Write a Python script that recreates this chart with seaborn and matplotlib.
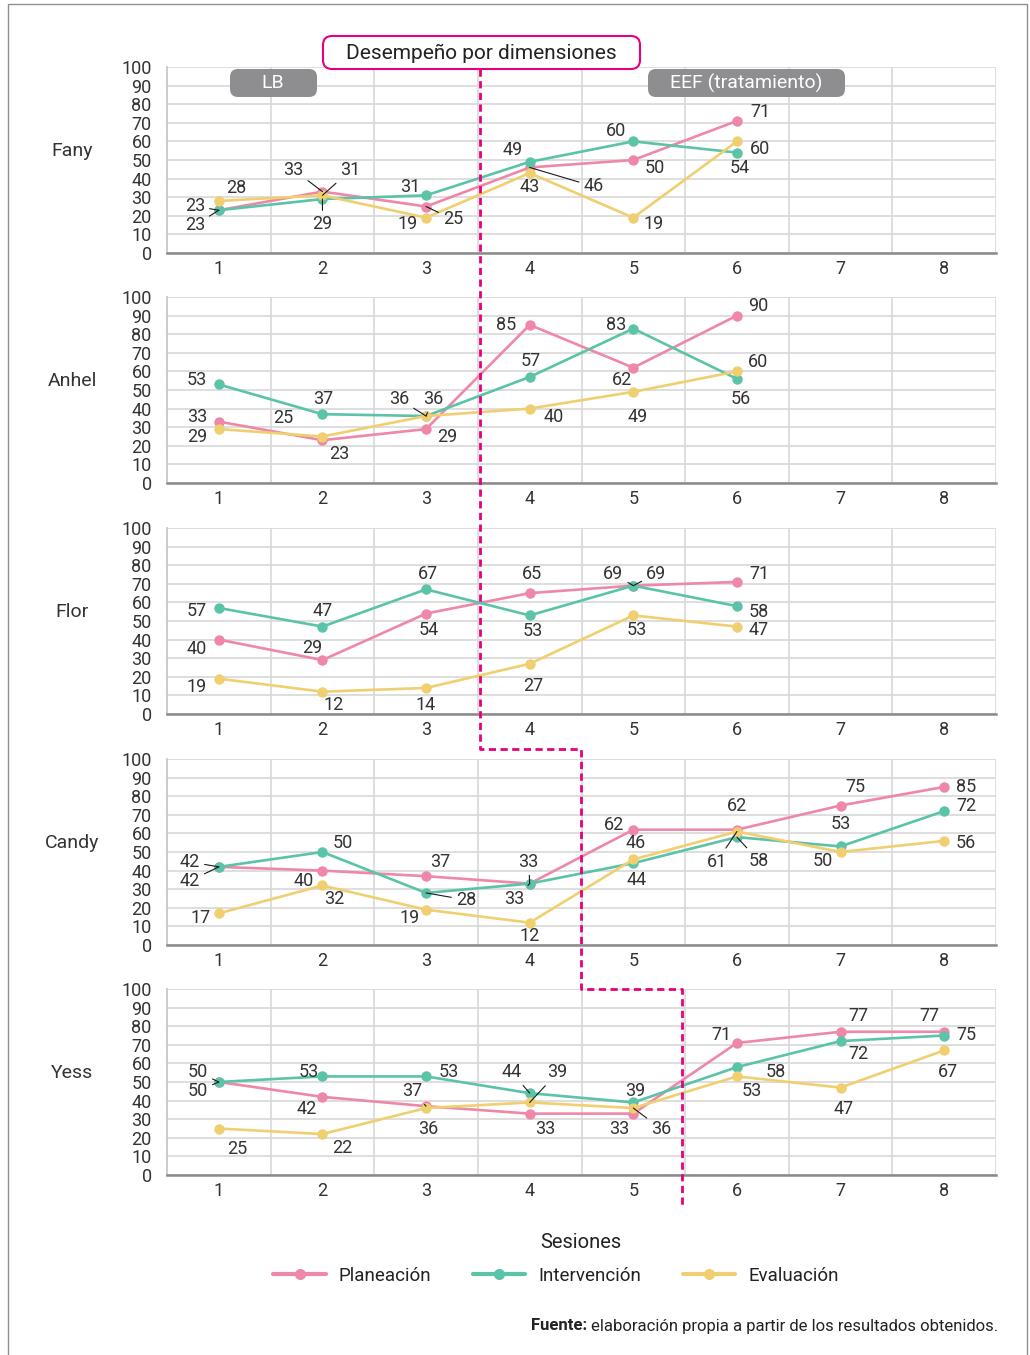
"""
Desempeño por dimensiones: cinco participantes, tres dimensiones por sesión.
"""

import matplotlib
matplotlib.use("Agg")
import matplotlib.pyplot as plt
from matplotlib.patches import FancyBboxPatch, Rectangle
from matplotlib.lines import Line2D
import seaborn as sns
import pandas as pd

sns.set_style("white")
plt.rcParams['font.family'] = ['Roboto', 'DejaVu Sans']

sesiones = [1, 2, 3, 4, 5, 6, 7, 8]
dimensiones = ["Planeación", "Intervención", "Evaluación"]
participantes = ["Fany", "Anhel", "Flor", "Candy", "Yess"]

fany_plan = [23, 33, 25, 46, 50, 71]
fany_int = [23, 29, 31, 49, 60, 54]
fany_eval = [28, 31, 19, 43, 19, 60]

anhel_plan = [33, 23, 29, 85, 62, 90]
anhel_int = [53, 37, 36, 57, 83, 56]
anhel_eval = [29, 25, 36, 40, 49, 60]

flor_plan = [40, 29, 54, 65, 69, 71]
flor_int = [57, 47, 67, 53, 69, 58]
flor_eval = [19, 12, 14, 27, 53, 47]

candy_plan = [42, 40, 37, 33, 62, 62, 75, 85]
candy_int = [42, 50, 28, 33, 44, 58, 53, 72]
candy_eval = [17, 32, 19, 12, 46, 61, 50, 56]

yess_plan = [50, 42, 37, 33, 33, 71, 77, 77]
yess_int = [50, 53, 53, 44, 39, 58, 72, 75]
yess_eval = [25, 22, 36, 39, 36, 53, 47, 67]

series = {
    "Fany": [fany_plan, fany_int, fany_eval],
    "Anhel": [anhel_plan, anhel_int, anhel_eval],
    "Flor": [flor_plan, flor_int, flor_eval],
    "Candy": [candy_plan, candy_int, candy_eval],
    "Yess": [yess_plan, yess_int, yess_eval],
}

# ---- label placement: (dx px, dy px, leader line) per point ----
label_pos = {
    "Fany": [
        [(-24, 4, 1), (-29, 22, 1), (27, -13, 1), (64, -19, 1), (21, -8, 0), (23, 9, 0)],
        [(-24, -15, 1), (0, -25, 1), (-16, 8, 0), (-17, 12, 0), (-17, 10, 0), (3, -15, 0)],
        [(17, 13, 0), (28, 25, 1), (-18, -6, 0), (0, -14, 0), (20, -6, 0), (23, -8, 0)],
    ],
    "Anhel": [
        [(-22, 5, 0), (17, -14, 0), (21, -8, 0), (-24, 0, 0), (-11, -12, 0), (21, 10, 0)],
        [(-22, 4, 0), (1, 15, 0), (-27, 17, 1), (1, 16, 0), (-17, 4, 0), (4, -20, 0)],
        [(-22, -8, 0), (-39, 19, 0), (7, 17, 1), (24, -8, 0), (4, -25, 0), (21, 9, 0)],
    ],
    "Flor": [
        [(-22, -9, 0), (-10, 12, 0), (3, -16, 0), (2, 19, 0), (-20, 12, 1), (22, 8, 0)],
        [(-22, -3, 0), (0, 16, 0), (2, 15, 0), (3, -16, 0), (23, 12, 1), (22, -6, 0)],
        [(-22, -8, 0), (11, -13, 0), (0, -17, 0), (3, -22, 0), (3, -15, 0), (22, -3, 0)],
    ],
    "Candy": [
        [(-29, 5, 1), (-19, -10, 0), (14, 14, 0), (-1, 22, 1), (-19, 5, 0), (0, 24, 0), (15, 18, 0), (22, 0, 0)],
        [(-29, -14, 1), (20, 9, 0), (40, -7, 1), (-15, -15, 1), (3, -17, 0), (22, -24, 1), (0, 22, 0), (22, 5, 0)],
        [(-18, -5, 0), (12, -14, 0), (-16, -8, 0), (0, -13, 0), (2, 16, 0), (-20, -30, 1), (-18, -9, 0), (22, -2, 0)],
    ],
    "Yess": [
        [(-21, 10, 1), (-16, -12, 0), (-14, 15, 1), (16, -15, 0), (-14, -15, 0), (-16, 8, 0), (18, 16, 0), (-15, 16, 0)],
        [(-21, -9, 1), (-14, 4, 0), (23, 4, 0), (-18, 21, 1), (2, 11, 0), (39, -5, 0), (18, -13, 0), (22, 0, 0)],
        [(18, -20, 0), (20, -14, 0), (2, -21, 0), (28, 30, 1), (28, -21, 1), (15, -15, 0), (3, -21, 0), (4, -22, 0)],
    ],
}

colores = ["#ee87a8", "#5ac3a8", "#efcf70"]
magenta = "#e6007e"
texto = "#333333"
W, H = 1030, 1355
panel_top = [67, 297, 528, 759, 989]
panel_h = 186


def px_box(fig, x0, y0, x1, y1, **kw):
    """Rounded box given in pixel coords (origin top-left)."""
    p = FancyBboxPatch((x0 / 100, (H - y1) / 100), (x1 - x0) / 100, (y1 - y0) / 100,
                       transform=fig.dpi_scale_trans, **kw)
    fig.patches.append(p)
    return p


fig = plt.figure(figsize=(W / 100, H / 100), dpi=100)

# outer frame
fig.patches.append(Rectangle((8 / 100, -0.2), (1027 - 8) / 100, (H - 4) / 100 + 0.2,
                             transform=fig.dpi_scale_trans, fill=False,
                             edgecolor="#8f8f8f", lw=1.0))

axes = []
for i, nombre in enumerate(participantes):
    top = panel_top[i]
    ax = fig.add_axes([167 / W, 1 - (top + panel_h) / H, (996 - 167) / W, panel_h / H])
    axes.append(ax)

    rows = []
    for dim, vals in zip(dimensiones, series[nombre]):
        for s, v in zip(sesiones, vals):
            rows.append({"Sesión": s, "Valor": v, "Dimensión": dim})
    df = pd.DataFrame(rows)

    sns.lineplot(data=df, x="Sesión", y="Valor", hue="Dimensión", hue_order=dimensiones,
                 palette=colores, marker="o", markersize=7.5, markeredgewidth=0,
                 linewidth=1.9, legend=False, ax=ax, sort=False, errorbar=None)

    ax.set_xlim(0.5, 8.5)
    ax.set_ylim(0, 100)
    ax.set_xticks(sesiones)
    ax.set_xticks([s + 0.5 for s in sesiones], minor=True)
    ax.set_yticks(range(0, 101, 10))
    ax.grid(axis="y", which="major", color="#d8d8d8", lw=1.2)
    ax.grid(axis="x", which="minor", color="#d8d8d8", lw=1.2)
    ax.grid(axis="x", which="major", visible=False)
    ax.set_axisbelow(True)
    ax.tick_params(axis="both", which="both", length=0, labelsize=13, labelcolor=texto)
    ax.tick_params(axis="y", pad=11)
    ax.tick_params(axis="x", pad=5)
    ax.set_xlabel("")
    ax.set_ylabel("")
    for side in ["top", "right"]:
        ax.spines[side].set_visible(False)
    ax.spines["left"].set_color("#c8c8c8")
    ax.spines["left"].set_linewidth(1.3)
    ax.spines["bottom"].set_color("#8a8a8a")
    ax.spines["bottom"].set_linewidth(1.8)

    # value labels
    for k, vals in enumerate(series[nombre]):
        for s, v, (dx, dy, lead) in zip(sesiones, vals, label_pos[nombre][k]):
            ax.annotate(str(v), xy=(s, v), xytext=(dx, dy), textcoords="offset pixels",
                        ha="center", va="center", fontsize=13, color=texto,
                        annotation_clip=False,
                        arrowprops=dict(arrowstyle="-", color="#1a1a1a", lw=0.8,
                                        shrinkA=1, shrinkB=0) if lead else None)

    fig.text(72 / W, 1 - (top + panel_h / 2 - 9) / H, nombre, ha="center", va="center",
             fontsize=14, color=texto)

# dashed divider between baseline and treatment
inv = fig.transFigure.inverted()
pts = []
y_start = [69, 749, 989]
y_end = [749, 989, 1207]
xs = [3.52, 4.5, 5.47]
for x, y0, y1 in zip(xs, y_start, y_end):
    xf = inv.transform(axes[0].transData.transform((x, 0)))[0]
    pts.append((xf, 1 - y0 / H))
    pts.append((xf, 1 - y1 / H))
fig.add_artist(Line2D([p[0] for p in pts], [p[1] for p in pts], transform=fig.transFigure,
                      color=magenta, lw=2.0, linestyle=(0, (2.6, 1.6)), zorder=5))

# title and phase boxes
px_box(fig, 323, 36, 640, 69, boxstyle="round,pad=0,rounding_size=0.09",
       facecolor="white", edgecolor=magenta, lw=1.5, zorder=6)
fig.text(481 / W, 1 - 53 / H, "Desempeño por dimensiones", ha="center", va="center",
         fontsize=15, color="#222222", zorder=7)
px_box(fig, 230, 69, 317, 97, boxstyle="round,pad=0,rounding_size=0.08",
       facecolor="#8e8e91", edgecolor="none", zorder=6)
fig.text(273 / W, 1 - 83.5 / H, "LB", ha="center", va="center", fontsize=14,
         color="white", zorder=7)
px_box(fig, 648, 69, 845, 97, boxstyle="round,pad=0,rounding_size=0.08",
       facecolor="#8e8e91", edgecolor="none", zorder=6)
fig.text(746 / W, 1 - 83.5 / H, "EEF (tratamiento)", ha="center", va="center", fontsize=14,
         color="white", zorder=7)

# axis title + legend
fig.text(581 / W, 1 - 1242 / H, "Sesiones", ha="center", va="center", fontsize=14.5,
         color="#222222")
handles = [Line2D([0], [0], color=c, lw=3, marker="o", markersize=8, markeredgewidth=0)
           for c in colores]
fig.legend(handles, dimensiones, loc="center", bbox_to_anchor=(556 / W, 1 - 1276 / H),
           ncol=3, frameon=False, fontsize=13.5, handlelength=2.8, handletextpad=0.7,
           columnspacing=2.2, labelcolor="#222222")

# source note
r = fig.canvas.get_renderer()
nota = fig.text(998 / W, 1 - 1326 / H, "elaboración propia a partir de los resultados obtenidos.",
                ha="right", va="center", fontsize=12, color="#222222")
bb = nota.get_window_extent(renderer=r)
fig.text(bb.x0 / fig.bbox.width - 4 / W, 1 - 1326 / H, "Fuente:", ha="right", va="center",
         fontsize=12, fontweight="bold", color="#222222")

plt.savefig("out.png", dpi=100)
